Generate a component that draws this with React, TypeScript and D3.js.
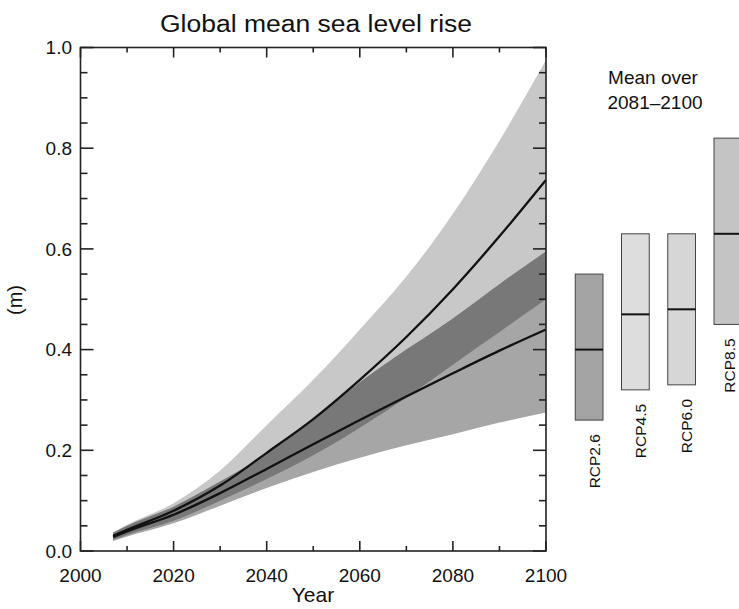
import React from 'react';
import * as d3 from 'd3';

// Time series (global mean sea level rise, m)
const years = [2007, 2010, 2020, 2030, 2040, 2050, 2060, 2070, 2080, 2090, 2100];
const rcp85Mean = [0.030, 0.042, 0.080, 0.130, 0.195, 0.262, 0.340, 0.425, 0.520, 0.625, 0.737];
const rcp85Upper = [0.037, 0.052, 0.095, 0.160, 0.250, 0.340, 0.440, 0.545, 0.670, 0.815, 0.975];
const rcp85Lower = [0.022, 0.032, 0.060, 0.100, 0.143, 0.190, 0.245, 0.305, 0.370, 0.435, 0.500];
const rcp26Mean = [0.028, 0.039, 0.072, 0.115, 0.163, 0.212, 0.260, 0.307, 0.353, 0.398, 0.440];
const rcp26Upper = [0.036, 0.050, 0.088, 0.138, 0.193, 0.260, 0.335, 0.400, 0.462, 0.530, 0.595];
const rcp26Lower = [0.020, 0.029, 0.055, 0.090, 0.125, 0.157, 0.185, 0.210, 0.232, 0.255, 0.275];

// Mean over 2081-2100
const scenarios = ['RCP2.6', 'RCP4.5', 'RCP6.0', 'RCP8.5'];
const barMean = [0.40, 0.47, 0.48, 0.63];
const barLow = [0.26, 0.32, 0.33, 0.45];
const barHigh = [0.55, 0.63, 0.63, 0.82];
const barFill = ['#a4a4a4', '#dddddd', '#d6d6d6', '#c4c4c4'];

const xTickLabels = [2000, 2020, 2040, 2060, 2080, 2100];
const yTickLabels = [0.0, 0.2, 0.4, 0.6, 0.8, 1.0];

const FONT = '"Liberation Sans", Arial, Helvetica, sans-serif';

export default function App() {
  const W = 739, H = 609;
  const x = d3.scaleLinear().domain([2000, 2100]).range([80.5, 546]);
  const y = d3.scaleLinear().domain([0, 1]).range([551, 47.5]);
  const xb = d3.scaleBand<string>().domain(scenarios).range([566, 751]).paddingInner(0.4).paddingOuter(0.2);

  const rows = years.map((yr, i) => ({
    yr,
    m85: rcp85Mean[i], u85: rcp85Upper[i], l85: rcp85Lower[i],
    m26: rcp26Mean[i], u26: rcp26Upper[i], l26: rcp26Lower[i],
  }));
  type R = typeof rows[number];
  const curve = d3.curveMonotoneX;
  const band85 = d3.area<R>().x(d => x(d.yr)).y0(d => y(d.l85)).y1(d => y(d.u85)).curve(curve)(rows) || '';
  const band26 = d3.area<R>().x(d => x(d.yr)).y0(d => y(d.l26)).y1(d => y(d.u26)).curve(curve)(rows) || '';
  const overlap = d3.area<R>().x(d => x(d.yr))
    .y0(d => y(Math.max(d.l85, d.l26))).y1(d => y(Math.min(d.u85, d.u26))).curve(curve)(rows) || '';
  const line85 = d3.line<R>().x(d => x(d.yr)).y(d => y(d.m85)).curve(curve)(rows) || '';
  const line26 = d3.line<R>().x(d => x(d.yr)).y(d => y(d.m26)).curve(curve)(rows) || '';

  const [x0, x1] = x.range();
  const [yb, yt] = y.range();
  const xMinor = d3.range(2000, 2101, 10);
  const yMinor = d3.range(0, 1.0001, 0.05);

  return (
    <svg width={W} height={H} style={{ position: 'absolute', left: 0, top: 0, background: '#fff' }}
      fontFamily={FONT}>
      <rect x={0} y={0} width={W} height={H} fill="#fff" />
      <text x={316} y={32} fontSize={23} textAnchor="middle" fill="#111" textLength={312} lengthAdjust="spacingAndGlyphs">
        Global mean sea level rise
      </text>

      {/* bands */}
      <path d={band85} fill="#c8c8c8" />
      <path d={band26} fill="#a6a6a6" />
      <path d={overlap} fill="#787878" />
      <path d={line85} fill="none" stroke="#111" strokeWidth={2.3} />
      <path d={line26} fill="none" stroke="#111" strokeWidth={2.3} />

      {/* axes frame */}
      <rect x={x0} y={yt} width={x1 - x0} height={yb - yt} fill="none" stroke="#222" strokeWidth={1.6} />

      {/* x ticks */}
      {xMinor.map(v => {
        const major = v % 20 === 0;
        const len = major ? 10 : 5;
        return (
          <g key={'xt' + v}>
            <line x1={x(v)} x2={x(v)} y1={yb} y2={yb - len} stroke="#222" strokeWidth={1.6} />
            <line x1={x(v)} x2={x(v)} y1={yt} y2={yt + len} stroke="#222" strokeWidth={1.6} />
          </g>
        );
      })}
      {/* y ticks */}
      {yMinor.map((v, i) => {
        const major = i % 4 === 0;
        const len = major ? 13 : 7;
        return (
          <g key={'yt' + i}>
            <line x1={x0} x2={x0 + len} y1={y(v)} y2={y(v)} stroke="#222" strokeWidth={1.6} />
            <line x1={x1} x2={x1 - len} y1={y(v)} y2={y(v)} stroke="#222" strokeWidth={1.6} />
          </g>
        );
      })}

      {xTickLabels.map(v => (
        <text key={'xl' + v} x={x(v)} y={582} fontSize={19} textAnchor="middle" fill="#111">{v}</text>
      ))}
      {yTickLabels.map(v => (
        <text key={'yl' + v} x={72} y={y(v)} dy="0.35em" fontSize={19} textAnchor="end" fill="#111">{v.toFixed(1)}</text>
      ))}
      <text x={313} y={602} fontSize={21} textAnchor="middle" fill="#111">Year</text>
      <text transform={`translate(22,${300}) rotate(-90)`} fontSize={20} textAnchor="middle" fill="#111">(m)</text>

      {/* bars */}
      <text x={653} y={84} fontSize={19} textAnchor="middle" fill="#111">Mean over</text>
      <text x={655} y={109} fontSize={19} textAnchor="middle" fill="#111">2081–2100</text>
      {scenarios.map((s, i) => {
        const bx = xb(s) as number;
        const bw = xb.bandwidth();
        const lx = Math.min(bx + bw / 2 + 5, 729);
        return (
          <g key={s}>
            <rect x={bx} y={y(barHigh[i])} width={bw} height={y(barLow[i]) - y(barHigh[i])}
              fill={barFill[i]} stroke="#444" strokeWidth={1} />
            <line x1={bx} x2={bx + bw} y1={y(barMean[i])} y2={y(barMean[i])} stroke="#111" strokeWidth={2} />
            <text transform={`translate(${lx},${y(barLow[i]) + 14}) rotate(-90)`}
              fontSize={15.5} textAnchor="end" dominantBaseline="central" fill="#111">{s}</text>
          </g>
        );
      })}
    </svg>
  );
}
